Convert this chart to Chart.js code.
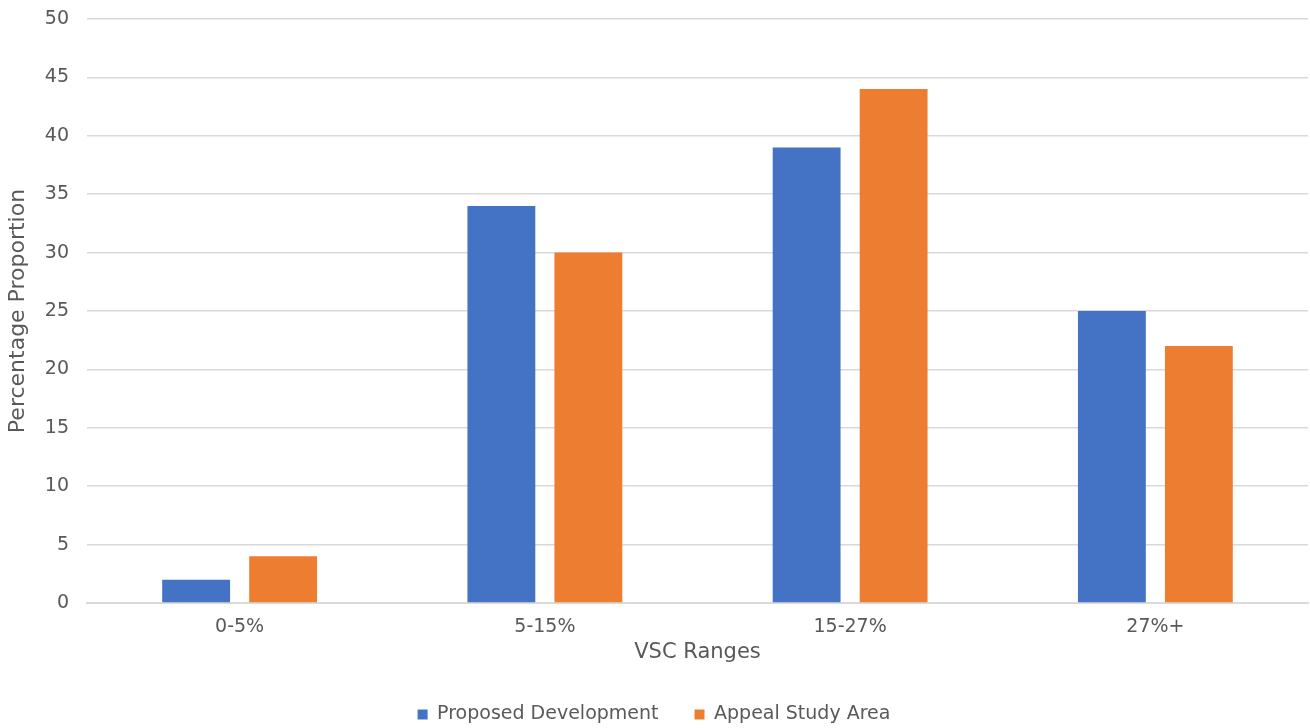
<!DOCTYPE html>
<html>
<head>
<meta charset="utf-8">
<script src="https://cdn.jsdelivr.net/npm/chart.js@4"></script>
<style>
  html, body { margin: 0; padding: 0; background: #fff; }
  #wrap { width: 1310px; height: 728px; }
</style>
</head>
<body>
<div id="wrap"><canvas id="chart" width="1310" height="728"></canvas></div>
<script>
const categories = ["0-5%", "5-15%", "15-27%", "27%+"];
const proposed = [2, 34, 39, 25];
const appeal = [4, 30, 44, 22];
const seriesNames = ["Proposed Development", "Appeal Study Area"];

const textGrey = "#595959";
const font = "'DejaVu Sans', sans-serif";

new Chart(document.getElementById("chart").getContext("2d"), {
  type: "bar",
  data: {
    labels: categories,
    datasets: [
      { label: seriesNames[0], data: proposed, backgroundColor: "#4472c4" },
      { label: seriesNames[1], data: appeal, backgroundColor: "#ed7d31" }
    ]
  },
  options: {
    responsive: false,
    animation: false,
    categoryPercentage: 0.57,
    barPercentage: 0.78,
    layout: { padding: { top: 19, right: 2, bottom: -6, left: 0 } },
    plugins: {
      tooltip: { enabled: false },
      legend: {
        position: "bottom",
        labels: {
          color: textGrey,
          font: { family: font, size: 19 },
          boxWidth: 10,
          boxHeight: 10,
          padding: 36
        }
      }
    },
    scales: {
      x: {
        grid: { display: false },
        border: { color: "#d9d9d9", width: 2 },
        ticks: { color: textGrey, font: { family: font, size: 19 }, padding: 5 },
        title: { display: true, text: "VSC Ranges", color: textGrey, font: { family: font, size: 21 }, padding: { top: 2 } },
        afterFit: (s) => { s.height = 66; s.paddingTop = 0; }
      },
      y: {
        min: 0,
        max: 50,
        ticks: { stepSize: 5, color: textGrey, font: { family: font, size: 19 }, padding: 18 },
        grid: { color: "#d9d9d9", lineWidth: 1.5, drawTicks: false },
        border: { display: false },
        title: { display: true, text: "Percentage Proportion", color: textGrey, font: { family: font, size: 22 }, padding: { top: 5, bottom: 8 } },
        afterFit: (s) => { s.width = 87; s.paddingTop = 0; s.paddingBottom = 0; }
      }
    }
  }
});
</script>
</body>
</html>
